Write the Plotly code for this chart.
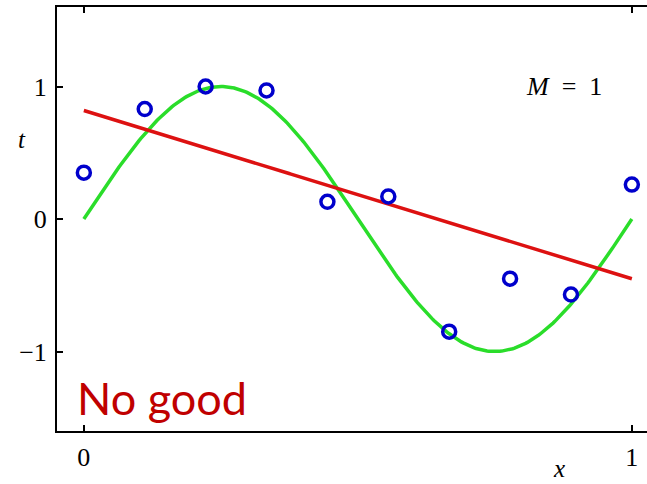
import numpy as np
import plotly.graph_objects as go

# Observed targets at evenly spaced inputs
x_obs = [0, 1/9, 2/9, 3/9, 4/9, 5/9, 6/9, 7/9, 8/9, 1]
t_obs = [0.35, 0.83, 1.00, 0.97, 0.13, 0.17, -0.85, -0.45, -0.57, 0.26]

# Polynomial order of the fitted model
order = 1

# Axis ticks
x_ticks = [0, 1]
x_tick_text = ["0", "1"]
y_ticks = [-1, 0, 1]
y_tick_text = ["\u22121", "0", "1"]

# Underlying function sin(2*pi*x)
xs = np.linspace(0, 1, 300)
true_curve = np.sin(2 * np.pi * xs)

# Least-squares polynomial fit of the observations
coef = np.polyfit(x_obs, t_obs, order)
fit_curve = np.polyval(coef, xs)

W, H = 647, 484
ml, mr, mt, mb = 57, 0, 7, 53
plot_w = W - ml - mr
plot_h = H - mt - mb
px_per_x = 548.0
x_lo = -0.049
x_hi = x_lo + plot_w / px_per_x

serif = "Liberation Serif"

fig = go.Figure()
fig.add_trace(go.Scatter(x=xs, y=true_curve, mode="lines",
                         line=dict(color="#2ADD2A", width=3.5), hoverinfo="skip"))
fig.add_trace(go.Scatter(x=xs, y=fit_curve, mode="lines",
                         line=dict(color="#DD1111", width=3.5), hoverinfo="skip"))
fig.add_trace(go.Scatter(x=x_obs, y=t_obs, mode="markers",
                         marker=dict(symbol="circle-open", size=13,
                                     color="#0000CC", line=dict(width=3.5, color="#0000CC"))))


def page_pos(px, py):
    """Convert page pixel coordinates to paper coordinates."""
    return (px - ml) / plot_w, (H - mb - py) / plot_h


labels = [
    ("<i>x</i>", 559, 468, serif, 25, "black"),
    ("<i>t</i>", 22, 140, serif, 25, "black"),
    ("<i>M</i>\u2002=\u20021", 564, 87, serif, 26, "black"),
    ("No good", 162, 398, "Lato", 45, "#C00000"),
]
annotations = []
for text, px, py, fam, size, col in labels:
    ax, ay = page_pos(px, py)
    annotations.append(dict(text=text, x=ax, y=ay, xref="paper", yref="paper",
                            xanchor="center", yanchor="middle", showarrow=False,
                            font=dict(family=fam, size=size, color=col)))

fig.update_layout(
    width=W, height=H,
    margin=dict(l=ml, r=mr, t=mt, b=mb, autoexpand=False),
    paper_bgcolor="white", plot_bgcolor="white",
    showlegend=False,
    xaxis=dict(range=[x_lo, x_hi], showgrid=False, zeroline=False, automargin=False,
               showline=True, linecolor="black", linewidth=2, mirror="ticks",
               ticks="inside", ticklen=6, tickwidth=1.5, tickcolor="black",
               tickvals=x_ticks, ticktext=x_tick_text, ticklabelstandoff=2,
               tickfont=dict(family=serif, size=26, color="black")),
    yaxis=dict(range=[-1.6, 1.6], showgrid=False, zeroline=False, automargin=False,
               showline=True, linecolor="black", linewidth=2, mirror=False,
               ticks="inside", ticklen=6, tickwidth=1.5, tickcolor="black",
               tickvals=y_ticks, ticktext=y_tick_text, ticklabelstandoff=3,
               tickfont=dict(family=serif, size=26, color="black")),
    annotations=annotations,
)

fig.write_html("out.html")
